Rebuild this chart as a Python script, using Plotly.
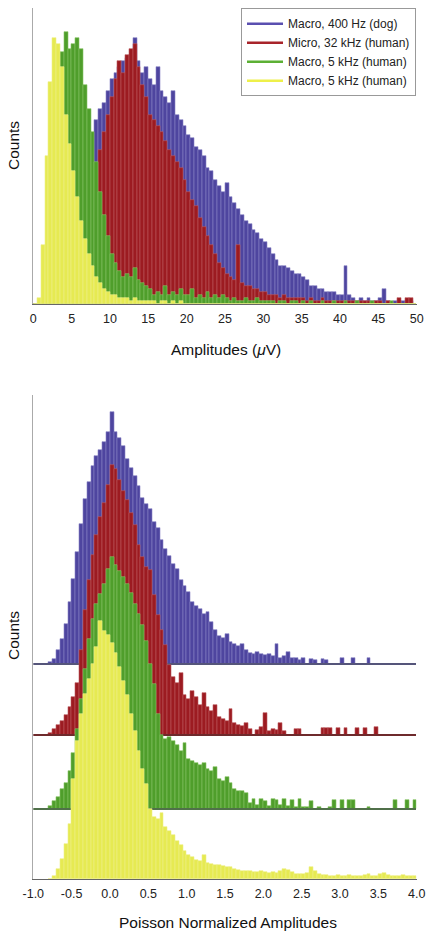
import numpy as np
import plotly.graph_objects as go

# ---------------- data ----------------
SERIES_NAMES = ["Macro, 400 Hz (dog)", "Micro, 32 kHz (human)",
                "Macro, 5 kHz (human)", "Macro, 5 kHz (human)"]

# Top panel: counts per 0.5 uV bin, 0..50 uV (relative units, 100 = top of axis)
TOP_BIN_START = 0.0
TOP_BIN_WIDTH = 0.5
top_blue = [0, 0, 0, 0, 0, 0, 0, 0, 0, 0, 0, 0, 0,
            5, 20, 45, 62, 66, 68, 72, 76, 78, 80, 82, 83, 84, 90, 82, 78, 80, 76, 74, 80,
            72, 70, 68, 72, 64, 62, 60, 57, 56, 53, 52, 50, 46, 45, 42, 40, 38, 41, 36,
            34, 32, 30, 28, 27, 25, 24, 22, 21, 19, 17, 15, 13, 13, 12, 11, 10, 10, 9, 8,
            6, 6, 5, 5, 4, 4, 4, 3, 3, 13, 3, 2, 1, 2, 1, 2, 1, 1, 2, 5, 1, 0, 1, 0, 1, 0, 1, 0]
top_red = [0, 0, 0, 0, 0, 0, 0, 0, 0, 0, 0,
           3, 8, 15, 24, 34, 44, 52, 58, 64, 70, 76, 82, 78, 84, 86, 88, 80, 74, 70,
           64, 62, 60, 58, 55, 52, 50, 48, 46, 42, 38, 35, 33, 29, 26, 23, 20, 17, 14, 12,
           10, 9, 8, 20, 7, 6, 6, 5, 5, 4, 4, 3, 3, 3, 2, 3, 2, 2, 2, 2, 2, 1, 2, 1, 1, 2,
           1, 1, 1, 1, 1, 1, 1, 1, 1, 1, 1, 1, 0, 1, 1, 0, 1, 0, 0, 2, 0, 2, 2, 0]
top_green = [0, 0, 0, 5, 20, 45, 70, 85, 92, 86, 88, 90, 86, 74, 66, 58, 48, 38, 30, 23,
             17, 14, 11, 9, 10, 9, 12, 8, 7, 6, 5, 3, 4, 3, 6, 3, 4, 3, 5, 3,
             3, 5, 2, 3, 2, 4, 2, 3, 2, 3, 2, 1, 2, 1, 1, 2, 1, 1, 2, 1,
             1, 1, 1, 0, 1, 1, 0, 1, 1, 0, 1, 0, 1, 0, 0, 1, 0, 0, 1, 0,
             0, 1, 0, 0, 1, 0, 0, 0, 1, 0, 0, 0, 0, 1, 0, 0, 0, 0, 0, 0]
top_yellow = [0, 2, 20, 50, 75, 90, 88, 80, 64, 54, 45, 36, 28, 22, 17, 13, 9, 7, 5, 4,
              3, 3, 2, 2, 2, 1, 2, 1, 1, 1, 1, 1, 0, 1, 1, 0, 1, 0, 1, 0,
              0, 0, 0, 0, 0, 0, 0, 0, 0, 0, 0, 0, 0, 0, 0, 0, 0, 0, 0, 0,
              0, 0, 0, 0, 0, 0, 0, 0, 0, 0, 0, 0, 0, 0, 0, 0, 0, 0, 0, 0,
              0, 0, 0, 0, 0, 0, 0, 0, 0, 0, 0, 0, 0, 0, 0, 0, 0, 0, 0, 0]

# Bottom panel: counts per 0.05 bin from -0.8 (relative units), each series on its own offset baseline
BOT_BIN_START = -0.8
BOT_BIN_WIDTH = 0.05
bot_offsets = [215, 144, 70, 0]
bot_blue = [2, 5, 14, 25, 40, 62, 85, 112, 140, 165, 182, 198, 208, 214, 222, 232, 252, 232,
            226, 218, 205, 196, 188, 178, 166, 160, 155, 142, 136, 124, 115, 108, 100, 95,
            84, 78, 72, 62, 58, 55, 50, 52, 42, 34, 28, 26, 30, 22, 20, 18, 20, 14, 11, 10,
            12, 10, 9, 10, 8, 20, 6, 8, 12, 6, 6, 4, 6, 0, 5, 4, 0, 5, 4, 0, 0, 0, 6, 0, 0,
            6, 0, 0, 0, 6]
bot_red = [2, 6, 10, 14, 20, 28, 38, 52, 85, 125, 155, 180, 200, 218, 232, 250, 270, 266,
           255, 244, 235, 222, 210, 190, 178, 168, 165, 140, 120, 105, 90, 70, 58, 52, 62,
           40, 36, 44, 38, 30, 42, 28, 24, 30, 18, 16, 14, 26, 12, 10, 9, 12, 6, 0, 5, 8,
           22, 4, 6, 5, 12, 4, 0, 0, 6, 6, 0, 0, 0, 0, 0, 7, 7, 7, 0, 7, 0, 7, 0, 0, 7, 0,
           7, 0, 0, 8]
bot_green = [3, 8, 12, 20, 26, 38, 56, 80, 110, 140, 170, 190, 205, 215, 225, 240, 252, 244,
             238, 232, 225, 216, 205, 195, 184, 168, 145, 125, 95, 74, 70, 72, 68, 64, 58,
             66, 50, 48, 46, 44, 46, 40, 38, 42, 30, 28, 32, 26, 20, 18, 18, 16, 6, 10, 4,
             10, 8, 3, 10, 9, 4, 10, 3, 9, 2, 10, 2, 2, 8, 0, 2, 0, 0, 2, 9, 0, 9, 0, 9, 9,
             0, 0, 0, 2, 0, 0, 0, 0, 0, 0, 9, 0, 0, 9, 0, 9]
bot_yellow = [0, 3, 10, 20, 35, 55, 100, 138, 165, 185, 200, 215, 232, 258, 248, 244, 236,
              226, 212, 198, 184, 165, 148, 128, 110, 95, 70, 62, 60, 66, 52, 48, 44, 38,
              34, 28, 24, 22, 19, 18, 24, 16, 15, 14, 14, 13, 12, 12, 10, 9, 8, 8, 8, 7, 7,
              8, 7, 6, 7, 6, 8, 10, 9, 7, 5, 5, 5, 6, 12, 8, 5, 4, 4, 3, 3, 4, 3, 3, 4, 3,
              3, 3, 4, 5, 3, 3, 5, 6, 4, 3, 3, 3, 4, 3, 3, 3]

TOP_TICKS = [0, 5, 10, 15, 20, 25, 30, 35, 40, 45, 50]
BOT_TICKS = [-1.0, -0.5, 0.0, 0.5, 1.0, 1.5, 2.0, 2.5, 3.0, 3.5, 4.0]
BOT_TICK_LABELS = ["-1.0", "-0.5", "0.0", "0.5", "1.0", "1.5", "2.0", "2.5", "3.0", "3.5", "4.0"]

# ---------------- style ----------------
COLORS = ["#4e459f", "#9c1b21", "#4f9e2b", "#e6ea52"]
EDGE = ["#8a84c6", "#bd5a5e", "#86c264", "#eef08a"]
LEGEND_COLORS = ["#5a4fb0", "#a8242a", "#5cb034", "#eef04a"]
BASE_COLORS = ["#55557a", "#6e2a2c", "#50704a"]
FONT = "Liberation Sans, Arial, Helvetica, sans-serif"

fig = go.Figure()

# top panel
top_series = [top_blue, top_red, top_green, top_yellow]
for vals, c, e in zip(top_series, COLORS, EDGE):
    xs = TOP_BIN_START + TOP_BIN_WIDTH * (np.arange(len(vals)) + 0.5)
    fig.add_trace(go.Bar(x=xs, y=vals, width=TOP_BIN_WIDTH,
                         marker=dict(color=c, line=dict(color=e, width=0.6)),
                         showlegend=False, hoverinfo="skip", xaxis="x", yaxis="y"))

# legend entries (line samples)
for name, c in zip(SERIES_NAMES, LEGEND_COLORS):
    fig.add_trace(go.Scatter(x=[None], y=[None], mode="lines", name=name,
                             line=dict(color=c, width=2.5), xaxis="x", yaxis="y"))

# bottom panel
X2_RANGE = [-1.0, 4.0]
bot_series = [bot_blue, bot_red, bot_green, bot_yellow]
for i, (vals, off, c, e) in enumerate(zip(bot_series, bot_offsets, COLORS, EDGE)):
    xs = BOT_BIN_START + BOT_BIN_WIDTH * (np.arange(len(vals)) + 0.5)
    fig.add_trace(go.Bar(x=xs, y=vals, base=off, width=BOT_BIN_WIDTH,
                         marker=dict(color=c, line=dict(color=e, width=0.6)),
                         showlegend=False, hoverinfo="skip", xaxis="x2", yaxis="y2"))
    if i < 3:
        thick = 1.4
        fig.add_trace(go.Bar(x=[(X2_RANGE[0] + X2_RANGE[1]) / 2], y=[thick], base=off - thick / 2,
                             width=[X2_RANGE[1] - X2_RANGE[0]],
                             marker=dict(color=BASE_COLORS[i], line=dict(width=0)),
                             showlegend=False, hoverinfo="skip", xaxis="x2", yaxis="y2"))

W, H = 433, 938
xdom = [33.3 / W, 416.7 / W]
common_x = dict(showgrid=False, zeroline=False, showline=True, linecolor="#666", linewidth=1,
                ticks="outside", ticklen=3, tickcolor="rgba(0,0,0,0)", automargin=False,
                tickfont=dict(family=FONT, size=12.5, color="#222"), domain=xdom)
common_y = dict(showgrid=False, zeroline=False, showline=True, linecolor="#aaa", linewidth=1,
                showticklabels=False, ticks="", automargin=False)
title_font = dict(family=FONT, size=15.5, color="#111")

fig.update_layout(
    template="none",
    width=W, height=H, margin=dict(l=0, r=0, t=0, b=0, pad=0, autoexpand=False),
    paper_bgcolor="white", plot_bgcolor="white",
    barmode="overlay", bargap=0,
    font=dict(family=FONT, color="#111"),
    xaxis=dict(range=[0, 50], tickvals=TOP_TICKS, anchor="y", **common_x),
    yaxis=dict(range=[0, 100], domain=[1 - 304 / H, 1 - 8 / H], anchor="x", **common_y),
    xaxis2=dict(range=X2_RANGE, tickvals=BOT_TICKS, ticktext=BOT_TICK_LABELS, anchor="y2", **common_x),
    yaxis2=dict(range=[0, 484], domain=[1 - 879 / H, 1 - 395 / H], anchor="x2", **common_y),
    legend=dict(x=241 / W, y=1 - 8.3 / H, xanchor="left", yanchor="top", itemwidth=36,
                bordercolor="#999", borderwidth=1, bgcolor="white",
                font=dict(family=FONT, size=12, color="#222")),
    annotations=[
        dict(text="Counts", x=13 / W, y=1 - 146 / H, xref="paper", yref="paper", textangle=-90,
             xanchor="center", yanchor="middle", showarrow=False, font=title_font),
        dict(text="Amplitudes (<i>\u03bc</i>V)", x=226 / W, y=1 - 349 / H, xref="paper", yref="paper",
             xanchor="center", yanchor="middle", showarrow=False, font=title_font),
        dict(text="Counts", x=13 / W, y=1 - 636 / H, xref="paper", yref="paper", textangle=-90,
             xanchor="center", yanchor="middle", showarrow=False, font=title_font),
        dict(text="Poisson Normalized Amplitudes", x=228 / W, y=1 - 922 / H, xref="paper", yref="paper",
             xanchor="center", yanchor="middle", showarrow=False, font=title_font),
    ],
)

fig.write_html("out.html", config={"displayModeBar": False},
               post_script="document.body.style.margin='0px';")
